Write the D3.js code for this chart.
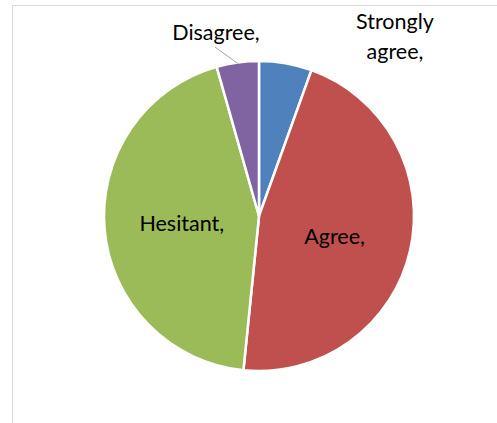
<!DOCTYPE html>
<html>
<head>
<meta charset="utf-8">
<script src="https://cdn.jsdelivr.net/npm/d3@7"></script>
<style>
  html, body { margin: 0; padding: 0; background: #fff; }
  svg { display: block; }
  text { font-family: Lato, "Open Sans", sans-serif; fill: #000; }
</style>
</head>
<body>
<svg id="chart" width="497" height="423"></svg>
<script>
// Survey responses (share of respondents, %)
const categories = ["Strongly agree", "Agree", "Hesitant", "Disagree"];
const values = [5.5, 46.1, 44.0, 4.4];
const colors = ["#4F81BD", "#C0504D", "#9BBB59", "#8064A2"];

const W = 497, H = 423;
const cx = 259, cy = 216, R = 155;

const svg = d3.select("#chart");

// chart area frame (top and left edges visible)
svg.append("path")
  .attr("d", `M12.5,${H} V5.5 H${W}`)
  .attr("fill", "none")
  .attr("stroke", "#d9d9d9")
  .attr("stroke-width", 1);

const data = categories.map((c, i) => ({ name: c, value: values[i], color: colors[i] }));

const pie = d3.pie().value(d => d.value).sort(null);
const arcs = pie(data);
const arc = d3.arc().innerRadius(0).outerRadius(R);

const g = svg.append("g").attr("transform", `translate(${cx},${cy})`);

g.selectAll("path.slice")
  .data(arcs)
  .join("path")
  .attr("class", "slice")
  .attr("d", arc)
  .attr("fill", d => d.data.color)
  .attr("stroke", "#fff")
  .attr("stroke-width", 2.5)
  .attr("stroke-linejoin", "round");

const fs = 21.5;
const inner = d3.arc().innerRadius(R * 0.5).outerRadius(R * 0.5);

// large slices: labels inside at half radius
arcs.filter(d => d.value > 20).forEach(d => {
  const [x, y] = inner.centroid(d);
  g.append("text")
    .attr("x", x).attr("y", y + (d.data.name === "Agree" ? 3 : 0))
    .attr("text-anchor", "middle")
    .attr("dominant-baseline", "central")
    .attr("font-size", fs)
    .text(d.data.name + ",");
});

// small slices: labels outside the pie
const saLines = ["Strongly", "agree,"];
svg.append("text")
  .attr("x", 395).attr("y", 29)
  .attr("text-anchor", "middle")
  .attr("font-size", fs)
  .selectAll("tspan")
  .data(saLines)
  .join("tspan")
  .attr("x", 395)
  .attr("dy", (d, i) => i === 0 ? 0 : 30)
  .text(d => d);

const dis = arcs[3];
svg.append("text")
  .attr("x", 216).attr("y", 40)
  .attr("text-anchor", "middle")
  .attr("font-size", fs)
  .text(dis.data.name + ",");

// leader line from the Disagree label to its slice
const mid = (dis.startAngle + dis.endAngle) / 2;
const edge = [cx + Math.sin(mid) * (R - 1), cy - Math.cos(mid) * (R - 1)];
svg.append("line")
  .attr("x1", 215).attr("y1", 47)
  .attr("x2", edge[0]).attr("y2", edge[1])
  .attr("stroke", "#a6a6a6")
  .attr("stroke-width", 1);
</script>
</body>
</html>
